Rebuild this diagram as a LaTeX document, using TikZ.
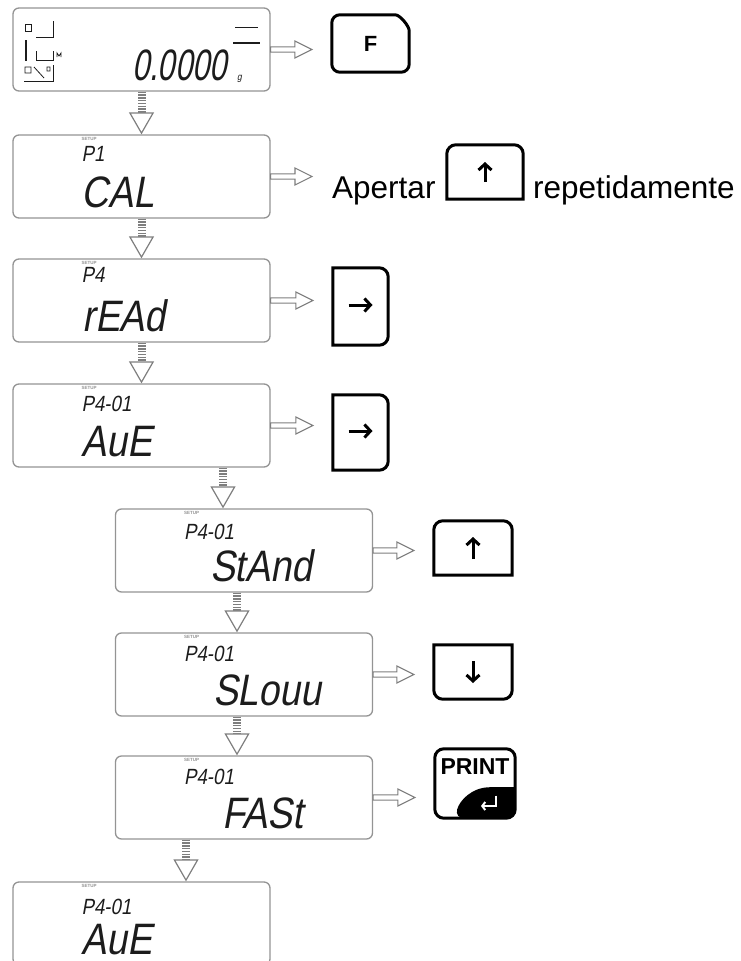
\documentclass[tikz,border=0pt]{standalone}
\usepackage{fontspec}
\setmainfont{Liberation Sans}
\newfontfamily\segfont[FakeSlant=0.18,FakeStretch=0.85]{Liberation Sans}
\newfontfamily\segnarrow[FakeSlant=0.18,FakeStretch=0.7]{Liberation Sans}
\usetikzlibrary{positioning,arrows.meta,calc}
\definecolor{lcdrim}{HTML}{949494}
\definecolor{lcdink}{HTML}{1C1C1C}
\definecolor{flowgray}{HTML}{7E7E7E}

\tikzset{
  lcd/.style={draw=lcdrim, line width=1.3pt, rounded corners=6pt, fill=white,
    minimum width=257pt, minimum height=83pt, inner sep=0pt},
  setuptag/.style={font=\bfseries\fontsize{4.5}{5}\selectfont, text=lcdrim, inner sep=0pt, anchor=north west},
  segsmall/.style={font=\segfont\fontsize{22}{24}\selectfont, text=lcdink, inner sep=0pt, anchor=north west},
  segbig/.style={font=\segfont\fontsize{44}{46}\selectfont, text=lcdink, inner sep=0pt, anchor=base west},
  keyspot/.style 2 args={inner sep=0pt, minimum width=#1, minimum height=#2},
  keyrim/.style={draw=black, line width=3pt, fill=white},
  keyglyph/.style={line width=3pt, -{Straight Barb[length=6pt,width=13pt,line width=3pt]}},
  flowdown/.style={draw=flowgray, line width=8pt, dash pattern=on 1.4pt off 1.4pt,
    -{Triangle[length=22pt,width=25pt,line width=1.2pt,fill=white]}},
  flowright/.style={draw=flowgray, line width=1.1pt, fill=white, line join=miter,
    to path={let \p1=(\tikztostart), \p2=(\tikztotarget) in
      (\x1,\y1+2.6pt) -- (\x2-37pt,\y1+2.6pt) -- (\x2-37pt,\y1+8.5pt) -- (\x2-20pt,\y1)
      -- (\x2-37pt,\y1-8.5pt) -- (\x2-37pt,\y1-2.6pt) -- (\x1,\y1-2.6pt) -- cycle}},
  bodytext/.style={font=\fontsize{31.5}{36}\selectfont, inner sep=0pt, anchor=base west}
}

\begin{document}
\begin{tikzpicture}[x=1pt,y=-1pt]
  \useasboundingbox (0,0) rectangle (741,961);

  % weighing display
  \node[lcd] (d1) at (141.5,49.5) {};
  \node[segbig, font=\segnarrow\fontsize{44}{46}\selectfont] (zero) at (132,80) {0.0000};
  \node[font=\segfont\fontsize{10}{10}\selectfont, text=lcdink, inner sep=0pt, anchor=base west] (unit) at (237,80) {g};
  \draw[lcdink, line width=0.9pt] (53,21) -- (53,37) -- (36,37);
  \draw[lcdink, line width=0.9pt] (25,24) rectangle (31,31);
  \draw[lcdink, line width=1.4pt] (26,40) -- (26,61);
  \draw[lcdink, line width=0.9pt] (36,51) -- (36,60) -- (53,60) -- (53,51);
  \draw[lcdink, line width=0.8pt] (57,57) -- (57,53) -- (59,56) -- (61,53) -- (61,57);
  \draw[lcdink, line width=0.9pt] (53,65) -- (53,81) -- (24,81);
  \draw[lcdink, line width=0.8pt] (25,67) rectangle (31,73) (34,67) -- (44,78) (47,67) rectangle (50,71);
  \draw[lcdink, line width=1pt] (235,27) -- (258,27);
  \draw[lcdink, line width=2pt] (233,43) -- (260,43);

  % setup displays
  \foreach \n/\cx/\cy/\pdy/\wdx/\ptxt/\wtxt in {2/141.5/176.5/12/69/P1/CAL,
      3/141.5/300.5/9/70/P4/rEAd, 4/141.5/425.5/13/69/P4-01/AuE,
      5/244/550.5/16/95/P4-01/StAnd, 6/244/674.5/14/98/P4-01/SLouu,
      7/244/797.5/14/107/P4-01/FASt, 8/141.5/923.5/18/69/P4-01/AuE}{
    \node[lcd] (d\n) at (\cx,\cy) {};
    \node[setuptag] (tag\n) at ([shift={(69pt,-2.5pt)}]d\n.north west) {SETUP};
    \node[segsmall] (pre\n) at ([shift={(69pt,-\pdy pt)}]d\n.north west) {\ptxt};
    \node[segbig] (wrd\n) at ([shift={(\wdx pt,-73pt)}]d\n.north west) {\wtxt};
  }

  % keys
  \node[keyspot={77pt}{57pt}] (k1) at (370.5,43.5) {};
  \draw[keyrim, rounded corners=8pt] (k1.south west) -- (k1.north west) -- ([xshift=-22pt]k1.north east)
    to[out=0,in=90] ([yshift=-24pt]k1.north east) -- (k1.south east) -- cycle;
  \node[font=\bfseries\fontsize{22}{23}\selectfont, inner sep=0pt] (f1) at (k1.center) {F};

  \node[bodytext] (t2) at (332,198) {Apertar};
  \node[keyspot={76pt}{54pt}] (k2) at (485,172) {};
  \draw[keyrim] (k2.south west) [rounded corners=9pt] -- (k2.north west) -- (k2.north east) [sharp corners] -- (k2.south east) -- cycle;
  \draw[keyglyph] ([yshift=-10pt]k2.center) -- ([yshift=10pt]k2.center);
  \node[bodytext] (t2b) at (533,198) {repetidamente};

  \foreach \n/\cy/\h in {3/306.5/77, 4/432.5/75}{
    \node[keyspot={55pt}{\h pt}] (k\n) at (360.5,\cy) {};
    \draw[keyrim] (k\n.north west) [rounded corners=9pt] -- (k\n.north east) -- (k\n.south east) [sharp corners] -- (k\n.south west) -- cycle;
    \draw[keyglyph] ([shift={(-12pt,1.5pt)}]k\n.center) -- ([shift={(12pt,1.5pt)}]k\n.center);
  }

  \node[keyspot={78pt}{54pt}] (k5) at (473,548) {};
  \draw[keyrim] (k5.south west) [rounded corners=9pt] -- (k5.north west) -- (k5.north east) [sharp corners] -- (k5.south east) -- cycle;
  \draw[keyglyph] ([yshift=-11pt]k5.center) -- ([yshift=11pt]k5.center);

  \node[keyspot={78pt}{54pt}] (k6) at (473,672) {};
  \draw[keyrim] (k6.north east) [rounded corners=9pt] -- (k6.south east) -- (k6.south west) [sharp corners] -- (k6.north west) -- cycle;
  \draw[keyglyph] ([yshift=11pt]k6.center) -- ([yshift=-11pt]k6.center);

  \node[keyspot={80pt}{69pt}] (k7) at (475,783.5) {};
  \fill[black] ([xshift=20pt]k7.south west) to[out=75,in=180] ([shift={(-25pt,31pt)}]k7.south east)
    -- ([yshift=31pt]k7.south east) [rounded corners=9pt] -- (k7.south east) -- cycle;
  \draw[keyrim, fill=none, rounded corners=9pt] (k7.north west) rectangle (k7.south east);
  \node[font=\bfseries\fontsize{23}{24}\selectfont, inner sep=0pt] (p7) at ([yshift=17pt]k7.center) {PRINT};
  \draw[white, line width=2.4pt, -{Straight Barb[length=3pt,width=8pt,line width=2pt]}]
    ([shift={(21pt,-12pt)}]k7.center) -- ([shift={(21pt,-22.5pt)}]k7.center) -- ([shift={(6pt,-22.5pt)}]k7.center);

  % flow
  \draw[flowdown] (d1.south) -- (d2.north);
  \draw[flowdown] (d2.south) -- (d3.north);
  \draw[flowdown] (d3.south) -- (d4.north);
  \draw[flowdown] ([xshift=81.5pt]d4.south) -- ([xshift=-21pt]d5.north);
  \draw[flowdown] ([xshift=-7pt]d5.south) -- ([xshift=-7pt]d6.north);
  \draw[flowdown] ([xshift=-7pt]d6.south) -- ([xshift=-7pt]d7.north);
  \draw[flowdown] ([xshift=-58pt]d7.south) -- ([xshift=44.5pt]d8.north);

  \draw[flowright] (d1.east) to (d1.east -| k1.west);
  \draw[flowright] (d2.east) to (d2.east -| t2.west);
  \draw[flowright] (d3.east) to (d3.east -| k3.west);
  \draw[flowright] (d4.east) to (d4.east -| k4.west);
  \draw[flowright] (d5.east) to (d5.east -| k5.west);
  \draw[flowright] (d6.east) to (d6.east -| k6.west);
  \draw[flowright] (d7.east) to (d7.east -| k7.west);
\end{tikzpicture}
\end{document}
